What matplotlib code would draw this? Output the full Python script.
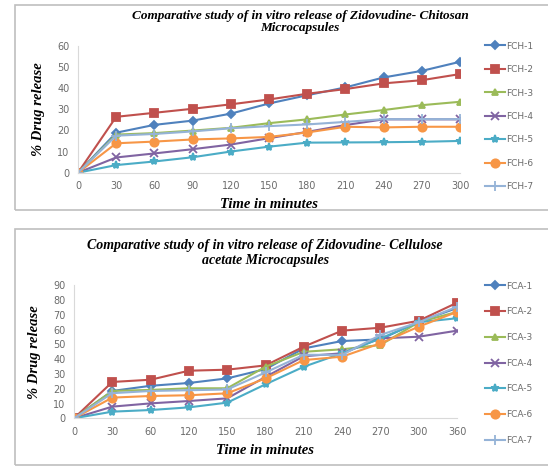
import matplotlib
matplotlib.use('Agg')
import matplotlib.pyplot as plt
from matplotlib.patches import Rectangle

# Chitosan microcapsules (top chart)
time_fch = [0, 30, 60, 90, 120, 150, 180, 210, 240, 270, 300]
fch = {
    'FCH-1': [0, 18.9, 22.6, 24.6, 27.9, 32.7, 36.6, 40.3, 45.0, 48.1, 52.4],
    'FCH-2': [0, 26.4, 28.3, 30.2, 32.3, 34.6, 37.3, 39.5, 42.2, 43.7, 46.6],
    'FCH-3': [0, 18.0, 18.7, 19.9, 21.2, 23.4, 25.2, 27.5, 29.6, 31.9, 33.5],
    'FCH-4': [0, 7.2, 9.1, 11.1, 13.3, 16.3, 19.3, 22.5, 25.2, 25.2, 25.2],
    'FCH-5': [0, 3.6, 5.3, 7.3, 10.0, 12.3, 14.2, 14.3, 14.4, 14.6, 15.0],
    'FCH-6': [0, 13.9, 14.7, 15.7, 16.2, 16.9, 19.0, 21.7, 21.4, 21.7, 21.7],
    'FCH-7': [0, 17.5, 18.3, 19.5, 21.0, 22.0, 22.8, 24.0, 25.3, 25.3, 25.3],
}

# Cellulose acetate microcapsules (bottom chart)
time_fca = [0, 30, 60, 120, 150, 180, 210, 240, 270, 300, 360]
fca = {
    'FCA-1': [0, 18.5, 22.0, 23.9, 27.0, 33.3, 47.3, 52.3, 53.4, 65.4, 74.6],
    'FCA-2': [0, 24.6, 26.1, 32.2, 32.9, 35.8, 48.5, 59.3, 61.3, 66.0, 78.2],
    'FCA-3': [0, 18.5, 19.2, 20.3, 20.3, 34.9, 45.0, 46.7, 49.6, 65.0, 72.0],
    'FCA-4': [0, 7.9, 10.1, 11.7, 13.5, 28.0, 42.0, 44.0, 54.1, 55.2, 59.3],
    'FCA-5': [0, 4.5, 5.6, 7.4, 10.6, 23.0, 34.9, 44.0, 54.0, 65.0, 67.7],
    'FCA-6': [0, 14.0, 15.1, 15.6, 16.9, 27.0, 39.4, 41.7, 50.7, 62.0, 72.0],
    'FCA-7': [0, 17.0, 18.5, 19.0, 19.5, 31.0, 43.0, 42.9, 56.4, 65.0, 75.5],
}

colors = ['#4F81BD', '#C0504D', '#9BBB59', '#8064A2', '#4BACC6', '#F79646', '#95B3D7']
markers = ['D', 's', '^', 'x', '*', 'o', '+']
msizes = [4, 6, 5, 6, 6, 6, 7]

title_font = dict(family='Liberation Serif', style='italic', weight='bold')
tick_color = '#6B6B6B'

fig = plt.figure(figsize=(5.48, 4.68), dpi=100)

# chart frames
fig.patches.append(Rectangle((15 / 548, 1 - 210 / 468), 540 / 548, 205 / 468,
                             transform=fig.transFigure, fill=False,
                             edgecolor='#BFBFBF', linewidth=1.2))
fig.patches.append(Rectangle((15 / 548, 1 - 465 / 468), 540 / 548, 236 / 468,
                             transform=fig.transFigure, fill=False,
                             edgecolor='#BFBFBF', linewidth=1.2))


def draw(ax, times, series, ymax, ystep, leg_y, leg_space):
    idx = list(range(len(times)))
    for i, (name, vals) in enumerate(series.items()):
        ax.plot(idx, vals, color=colors[i], marker=markers[i], markersize=msizes[i],
                linewidth=1.5, markeredgewidth=1.3, label=name)
    ax.set_xlim(0, len(times) - 1)
    ax.set_ylim(0, ymax)
    ax.set_xticks(idx)
    ax.set_xticklabels([str(t) for t in times])
    ax.set_yticks(range(0, ymax + 1, ystep))
    ax.tick_params(labelsize=7, colors=tick_color, length=0, pad=6)
    for s in ['top', 'right']:
        ax.spines[s].set_visible(False)
    ax.spines['left'].set_color('#D9D9D9')
    ax.spines['bottom'].set_color('#D9D9D9')
    ax.set_ylabel('% Drug release', fontsize=10.5, labelpad=9, **title_font)
    ax.set_xlabel('Time in minutes', fontsize=10.5, labelpad=5, **title_font)
    ax.legend(loc='upper left', bbox_to_anchor=(481 / 548, leg_y), bbox_transform=fig.transFigure,
              frameon=False, fontsize=6.5, labelspacing=leg_space, handlelength=2.3,
              handletextpad=0.1, borderaxespad=0.0, labelcolor=tick_color)


ax1 = fig.add_axes([78 / 548, 1 - 172.7 / 468, 382 / 548, 127 / 468])
draw(ax1, time_fch, fch, 60, 10, 1 - 38 / 468, 1.6)
fig.text(300 / 548, 1 - 10 / 468, 'Comparative study of in vitro release of Zidovudine- Chitosan\nMicrocapsules',
         ha='center', va='top', fontsize=9.5, linespacing=1.05, **title_font)

ax2 = fig.add_axes([74 / 548, 1 - 418.3 / 468, 383 / 548, 133 / 468])
draw(ax2, time_fca, fca, 90, 10, 1 - 278 / 468, 1.85)
fig.text(265 / 548, 1 - 239 / 468, 'Comparative study of in vitro release of Zidovudine- Cellulose\nacetate Microcapsules',
         ha='center', va='top', fontsize=10, linespacing=1.2, **title_font)

fig.savefig('out.png', dpi=100)
